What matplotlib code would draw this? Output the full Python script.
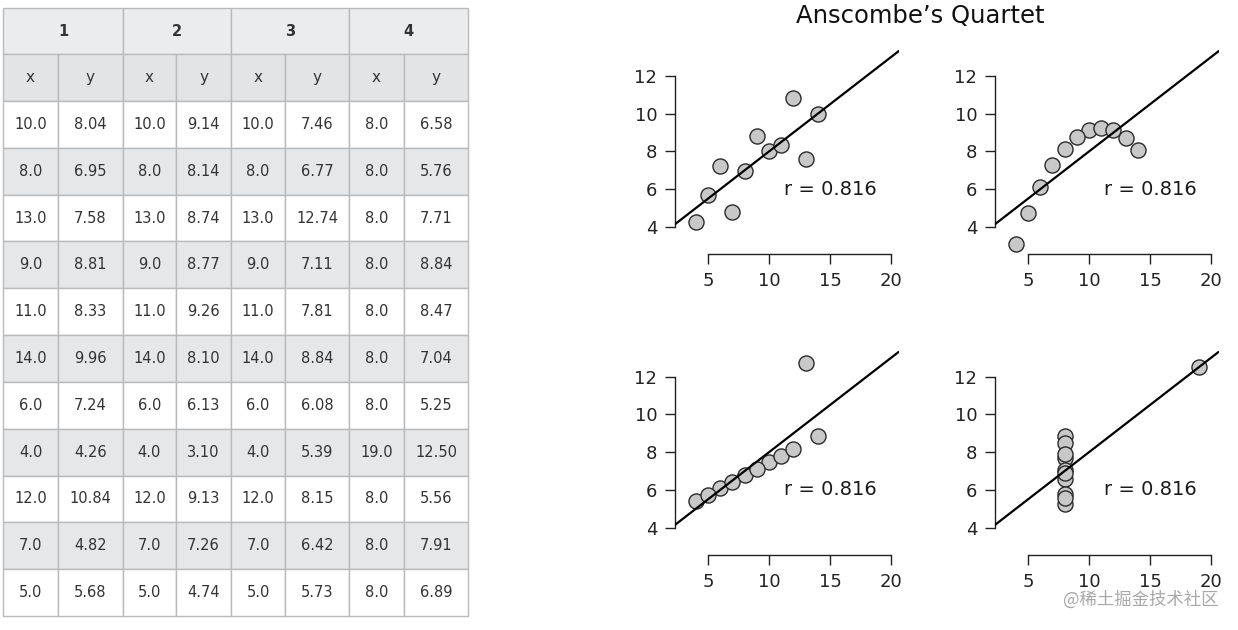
import numpy as np
import matplotlib
matplotlib.use("Agg")
import matplotlib.pyplot as plt
from matplotlib.patches import Rectangle

# --- Data (Anscombe's quartet) ----------------------------------------------
x123 = [10.0, 8.0, 13.0, 9.0, 11.0, 14.0, 6.0, 4.0, 12.0, 7.0, 5.0]
x4 = [8.0, 8.0, 8.0, 8.0, 8.0, 8.0, 8.0, 19.0, 8.0, 8.0, 8.0]
y1 = [8.04, 6.95, 7.58, 8.81, 8.33, 9.96, 7.24, 4.26, 10.84, 4.82, 5.68]
y2 = [9.14, 8.14, 8.74, 8.77, 9.26, 8.10, 6.13, 3.10, 9.13, 7.26, 4.74]
y3 = [7.46, 6.77, 12.74, 7.11, 7.81, 8.84, 6.08, 5.39, 8.15, 6.42, 5.73]
y4 = [6.58, 5.76, 7.71, 8.84, 8.47, 7.04, 5.25, 12.50, 5.56, 7.91, 6.89]
set_names = ["1", "2", "3", "4"]
sub_names = ["x", "y"]
r_labels = ["r = 0.816", "r = 0.816", "r = 0.816", "r = 0.816"]
x_ticks = [5, 10, 15, 20]
y_ticks = [4, 6, 8, 10, 12]
title = "Anscombe\u2019s Quartet"
watermark = "@稀土掘金技术社区"

sets = [(x123, y1), (x123, y2), (x123, y3), (x4, y4)]

W, H = 1238, 630
fig = plt.figure(figsize=(W / 100, H / 100), dpi=100)
fig.patch.set_facecolor("white")

# --- Left: the data table, drawn in pixel coordinates -------------------------
tab = fig.add_axes([0, 0, 1, 1])
tab.set_xlim(0, W); tab.set_ylim(H, 0); tab.axis("off")

col_edges = [3, 58, 123, 176, 231, 285, 349, 404, 468]
top, head1, head2, bottom = 8, 54, 101, 616
n_rows = len(x123)
row_h = (bottom - head2) / n_rows
line_c = "#b9babc"
text_c = "#333333"

# header row 1 (set numbers spanning two columns)
for i, name in enumerate(set_names):
    x0, x1 = col_edges[2 * i], col_edges[2 * i + 2]
    tab.add_patch(Rectangle((x0, top), x1 - x0, head1 - top,
                            facecolor="#ebecee", edgecolor=line_c, lw=1))
    tab.text((x0 + x1) / 2, (top + head1) / 2, name, ha="center", va="center",
             fontsize=10.5, fontweight="bold", color=text_c)
# header row 2 (x / y)
for j in range(8):
    x0, x1 = col_edges[j], col_edges[j + 1]
    tab.add_patch(Rectangle((x0, head1), x1 - x0, head2 - head1,
                            facecolor="#e3e4e6", edgecolor=line_c, lw=1))
    tab.text((x0 + x1) / 2, (head1 + head2) / 2, sub_names[j % 2],
             ha="center", va="center", fontsize=11, color=text_c)
# data rows
for r in range(n_rows):
    y0 = head2 + r * row_h
    bg = "#e6e7e9" if r % 2 == 1 else "white"
    for k, (xs, ys) in enumerate(sets):
        for m, txt in enumerate([f"{xs[r]:.1f}", f"{ys[r]:.2f}"]):
            j = 2 * k + m
            x0, x1 = col_edges[j], col_edges[j + 1]
            tab.add_patch(Rectangle((x0, y0), x1 - x0, row_h,
                                    facecolor=bg, edgecolor=line_c, lw=1))
            tab.text((x0 + x1) / 2, y0 + row_h / 2, txt, ha="center",
                     va="center", fontsize=10.5, color=text_c)

# --- Right: the four scatter panels ------------------------------------------
P_LEFT, P_TOP, P_W, P_H = 675.3, 50.3, 224.0, 183.5
DX, DY = 320.0, 300.7

for i, (xs, ys) in enumerate(sets):
    row, col = divmod(i, 2)
    left = P_LEFT + col * DX
    ptop = P_TOP + row * DY
    ax = fig.add_axes([left / W, 1 - (ptop + P_H) / H, P_W / W, P_H / H])
    ax.patch.set_alpha(0)
    ax.set_xlim(2.32, 20.68)
    ax.set_ylim(3.64, 13.36)
    # R draws points outside the plot region too (panel 2 has y = 3.10)
    ax.scatter(xs, ys, s=118, facecolor="#c8c8c8", edgecolor="#2a2a2a",
               linewidth=1.0, zorder=2, clip_on=False)
    slope, icpt = np.polyfit(xs, ys, 1)
    ax.axline((0, icpt), slope=slope, color="black", lw=1.6, zorder=3)
    ax.text(15, 6, r_labels[i], ha="center", va="center", fontsize=14,
            color="#1a1a1a")
    for s in ("top", "right"):
        ax.spines[s].set_visible(False)
    ax.spines["bottom"].set_bounds(5, 20)
    ax.spines["bottom"].set_position(("outward", 14.5))
    ax.spines["left"].set_bounds(4, 12)
    for s in ("bottom", "left"):
        ax.spines[s].set_linewidth(1.0)
        ax.spines[s].set_color("#222222")
    ax.set_xticks(x_ticks)
    ax.set_yticks(y_ticks)
    ax.tick_params(length=7, width=1.0, color="#222222", labelsize=13,
                   labelcolor="#222222", pad=6)

fig.text(920 / W, 1 - 16 / H, title, ha="center", va="center",
         fontsize=17.5, color="#111111")
fig.text(1218 / W, 1 - 600 / H, watermark, ha="right", va="center",
         fontsize=12.5, color="#a8a8a8",
         family=["Noto Sans CJK SC", "DejaVu Sans"])

fig.savefig("out.png", dpi=100)
